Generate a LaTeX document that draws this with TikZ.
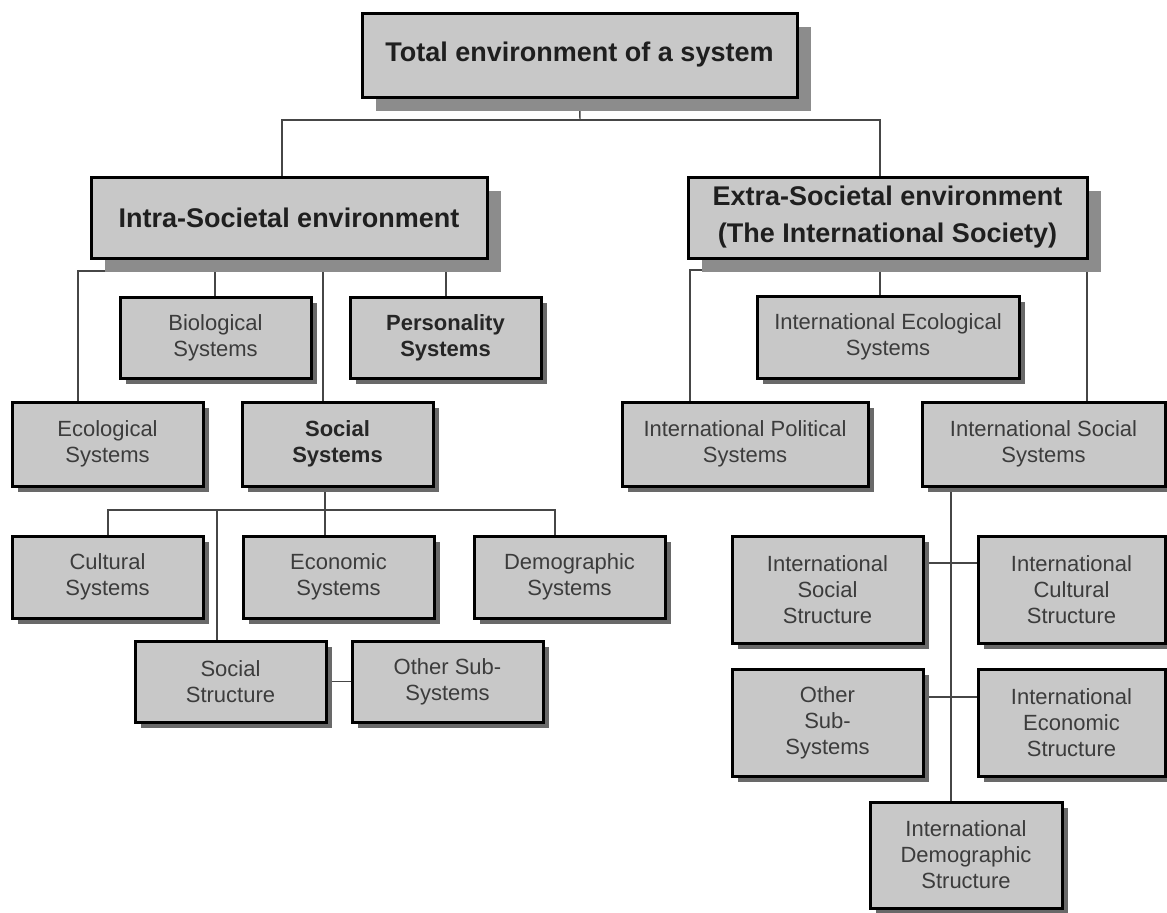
\documentclass[tikz,border=0pt]{standalone}
\usepackage{fontspec}
\setmainfont{Liberation Sans}
\usetikzlibrary{shadows,backgrounds,calc}
\definecolor{boxfill}{RGB}{200,200,200}
\definecolor{shadowbig}{RGB}{140,140,140}
\definecolor{shadowc}{RGB}{105,105,105}
\definecolor{linec}{RGB}{70,70,70}
\definecolor{txtc}{RGB}{60,60,60}
\tikzset{
  basebox/.style={draw=black, line width=1.5pt, fill=boxfill, inner sep=0pt, align=center},
  bigbox/.style={basebox, font=\fontsize{13.5}{18.5}\selectfont\bfseries, text=black!88,
    drop shadow={shadow xshift=7pt, shadow yshift=-7pt, fill=shadowbig, opacity=1}},
  smallbox/.style={basebox, font=\fontsize{11}{13}\selectfont, text=txtc,
    drop shadow={shadow xshift=3pt, shadow yshift=-3pt, fill=shadowc, opacity=1}},
  boldsmall/.style={smallbox, font=\fontsize{11}{13}\selectfont\bfseries, text=black!85},
  conn/.style={draw=linec, line width=0.7pt},
}
\newcommand\placebox[7]{\node[#6, minimum width={(#4-#2)*0.5pt}, minimum height={(#5-#3)*0.5pt}] (#1) at ({(#2+#4)/2},{(#3+#5)/2}) {#7};}
\begin{document}
\begin{tikzpicture}[x=0.5pt,y=-0.5pt]
\useasboundingbox (0,0) rectangle (1167,912);
% level 0-1
\placebox{top}{362}{13}{797}{97}{bigbox}{Total environment of a system}
\placebox{intra}{91}{177}{487}{258}{bigbox}{Intra-Societal environment}
\placebox{extra}{688}{177}{1087}{258}{bigbox}{Extra-Societal environment\\(The International Society)}
% intra children
\placebox{bio}{120}{297}{311}{378}{smallbox}{Biological\\Systems}
\placebox{pers}{350}{297}{541}{378}{boldsmall}{Personality\\Systems}
\placebox{eco}{12}{402}{203}{486}{smallbox}{Ecological\\Systems}
\placebox{social}{242}{402}{433}{486}{boldsmall}{Social\\Systems}
\placebox{cult}{12}{536}{203}{618}{smallbox}{Cultural\\Systems}
\placebox{econ}{243}{536}{434}{618}{smallbox}{Economic\\Systems}
\placebox{demo}{474}{536}{665}{618}{smallbox}{Demographic\\Systems}
\placebox{sstruct}{135}{641}{326}{722}{smallbox}{Social\\Structure}
\placebox{other}{352}{641}{543}{722}{smallbox}{Other Sub-\\Systems}
% extra children
\placebox{ieco}{757}{296}{1019}{378}{smallbox}{International Ecological\\Systems}
\placebox{pol}{622}{402}{868}{486}{smallbox}{International Political\\Systems}
\placebox{isoc}{922}{402}{1165}{486}{smallbox}{International Social\\Systems}
\placebox{iss}{732}{536}{923}{643}{smallbox}{International\\Social\\Structure}
\placebox{icult}{978}{536}{1165}{643}{smallbox}{International\\Cultural\\Structure}
\placebox{ioth}{732}{669}{923}{776}{smallbox}{Other\\Sub-\\Systems}
\placebox{iecon}{978}{669}{1165}{776}{smallbox}{International\\Economic\\Structure}
\placebox{idemo}{870}{802}{1062}{908}{smallbox}{International\\Demographic\\Structure}
% junctions
\coordinate (j1) at (580,120);
\coordinate (ja) at (282,120);
\coordinate (jb) at (880,120);
\coordinate (ic1) at (78,271);
\coordinate (ic2) at (446,271);
\coordinate (ic3) at (215,271);
\coordinate (ic4) at (323,271);
\coordinate (sc1) at (108,510);
\coordinate (sc2) at (555,510);
\coordinate (sc3) at (325,510);
\coordinate (sc4) at (217,510);
\coordinate (ec1) at (690,270);
\coordinate (ec2) at (1087,270);
\coordinate (ec3) at (880,270);
\coordinate (rc) at (951,0);
\coordinate (rh1) at (0,563);
\coordinate (rh2) at (0,697);
\begin{pgfonlayer}{background}
\draw[conn] (top.south) -- (j1);
\draw[conn] (intra.north -| ja) -- (ja) -- (jb) -- (extra.north -| jb);
\draw[conn] (eco.north -| ic1) -- (ic1) -- (ic2) -- (pers.north -| ic2);
\draw[conn] (bio.north -| ic3) -- (ic3);
\draw[conn] (intra.south -| ic4) -- (social.north -| ic4);
\draw[conn] (cult.north -| sc1) -- (sc1) -- (sc2) -- (demo.north -| sc2);
\draw[conn] (social.south -| sc3) -- (econ.north -| sc3);
\draw[conn] (sc4) -- (sstruct.north -| sc4);
\draw[conn] (sstruct.east) -- (other.west);
\draw[conn] (pol.north -| ec1) -- (ec1) -- (ec2) -- (isoc.north -| ec2);
\draw[conn] (extra.south -| ec3) -- (ieco.north -| ec3);
\draw[conn] (isoc.south -| rc) -- (idemo.north -| rc);
\draw[conn] (iss.east |- rh1) -- (icult.west |- rh1);
\draw[conn] (ioth.east |- rh2) -- (iecon.west |- rh2);
\end{pgfonlayer}
\end{tikzpicture}
\end{document}
